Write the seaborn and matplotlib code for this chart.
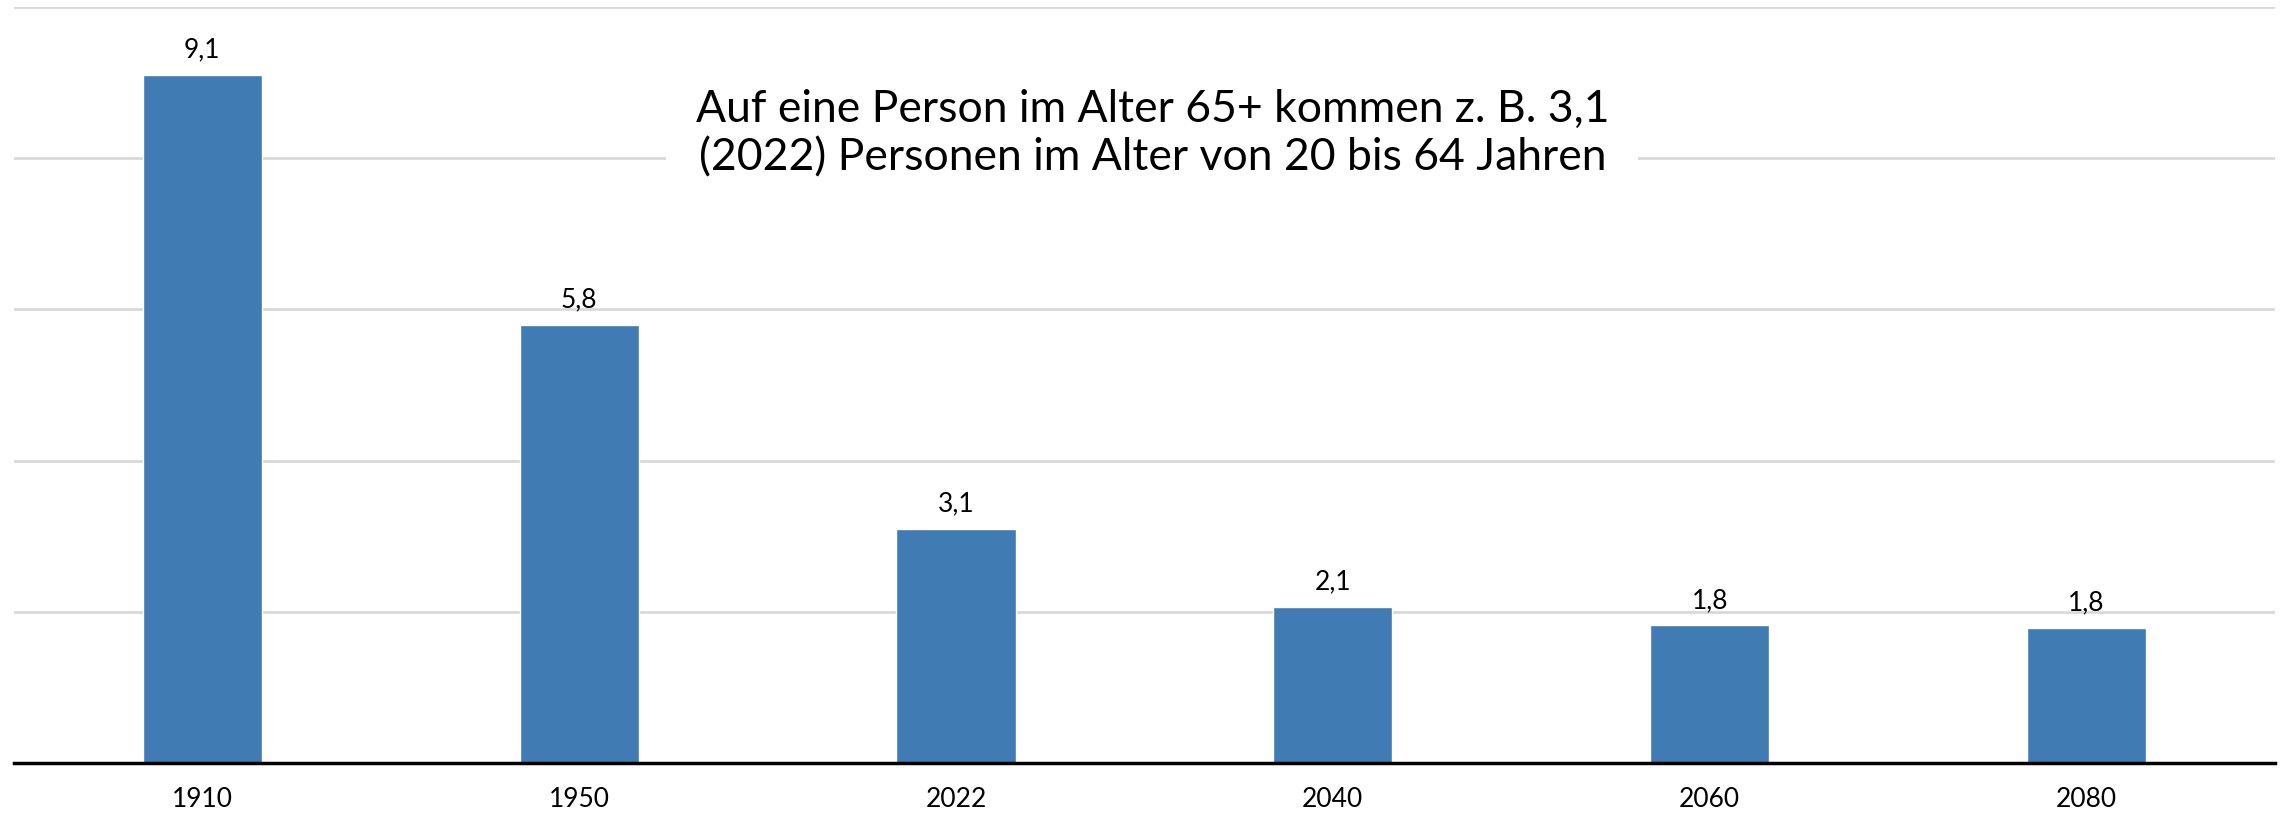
import pandas as pd
import seaborn as sns
import matplotlib.pyplot as plt

# data
years = ["1910", "1950", "2022", "2040", "2060", "2080"]
ratio = [9.1, 5.8, 3.1, 2.06, 1.82, 1.79]
note_lines = ["Auf eine Person im Alter 65+ kommen z. B. 3,1",
              "(2022) Personen im Alter von 20 bis 64 Jahren"]

df = pd.DataFrame({"Jahr": years, "Verhaeltnis": ratio})

sns.set_theme(style="white")
plt.rcParams["font.family"] = ["Lato", "DejaVu Sans"]

fig = plt.figure(figsize=(22.82, 8.14), dpi=100)
ax = fig.add_axes([0.0061, 0.0627, 0.9908, 0.9287])

sns.barplot(data=df, x="Jahr", y="Verhaeltnis", color="#407bb4",
            saturation=1, width=0.316, ax=ax, zorder=3)

ax.set_ylim(0, 10)
ax.set_xlim(-0.5, len(years) - 0.5)
ax.set_yticks([2, 4, 6, 8, 10])
ax.yaxis.grid(True, color="#d9d9d9", linewidth=2)
ax.set_axisbelow(True)
ax.set_yticklabels([])
ax.tick_params(axis="y", length=0)
ax.tick_params(axis="x", length=0, pad=17, labelsize=19, colors="black")
ax.set_xlabel("")
ax.set_ylabel("")

for side in ["top", "right", "left"]:
    ax.spines[side].set_visible(False)
ax.spines["bottom"].set_color("black")
ax.spines["bottom"].set_linewidth(2.5)
ax.spines["bottom"].set_zorder(4)

# value labels in German notation
labels = [f"{v:.1f}".replace(".", ",") for v in ratio]
ax.bar_label(ax.containers[0], labels=labels, padding=9, fontsize=19, color="black")

ax.text(0.5035, 0.832, "\n".join(note_lines), transform=ax.transAxes,
        ha="center", va="center", fontsize=32, linespacing=1.22, color="black",
        bbox=dict(facecolor="white", edgecolor="none", pad=21), zorder=5)

fig.savefig("out.png", dpi=100)
